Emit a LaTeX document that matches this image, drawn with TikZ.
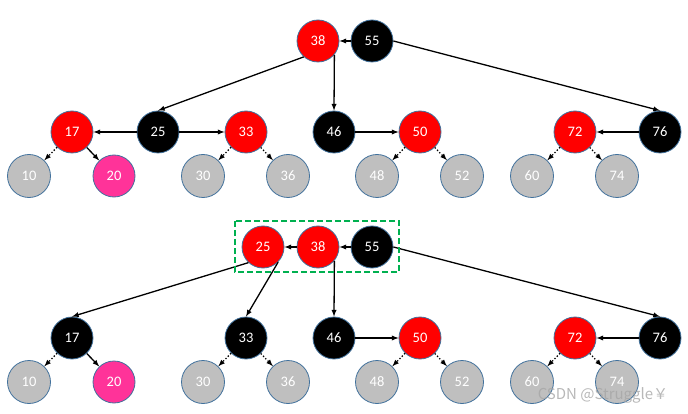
\documentclass[tikz,border=0pt]{standalone}
\usepackage{fontspec}
\setmainfont{Carlito}
\newfontfamily\cjkfont{Noto Sans CJK SC}
\definecolor{edgeblue}{HTML}{41719C}
\definecolor{leafgray}{HTML}{BFBFBF}
\definecolor{hotpink}{HTML}{FF3399}
\definecolor{boxgreen}{HTML}{00B050}
\begin{document}
\begin{tikzpicture}[x=1pt, y=-1pt, >=latex,
        key/.style={circle, draw=edgeblue, line width=0.8pt, minimum size=42pt, inner sep=0pt, text=white, font=\fontsize{14.5}{16}\selectfont},
        nil/.style={key, fill=leafgray, minimum size=43pt},
        link/.style={->, line width=1.3pt},
        nillink/.style={->, line width=1.3pt, dotted}]
        \useasboundingbox (0,0) rectangle (688,414);
        % the lower levels look alike in both trees
        \foreach \t/\dy/\c in {t/0/red, b/206/black} {
        \node[key, fill=\c] (\t17) at (72,132+\dy) {17};
        \node[key, fill=\c] (\t33) at (246,132+\dy) {33};
        \node[key, fill=black] (\t46) at (334,132+\dy) {46};
        \node[key, fill=red] (\t50) at (420,132+\dy) {50};
        \node[key, fill=red] (\t72) at (575,132+\dy) {72};
        \node[key, fill=black] (\t76) at (660,132+\dy) {76};
        \node[nil] (\t10) at (29,176+\dy) {10};
        \node[key, fill=hotpink] (\t20) at (114,176+\dy) {20};
        \node[nil] (\t30) at (203,176+\dy) {30};
        \node[nil] (\t36) at (288,176+\dy) {36};
        \node[nil] (\t48) at (377,176+\dy) {48};
        \node[nil] (\t52) at (462,176+\dy) {52};
        \node[nil] (\t60) at (532,176+\dy) {60};
        \node[nil] (\t74) at (617,176+\dy) {74};
        \draw[nillink] (\t17) -- (\t10);
        \draw[link] (\t17) -- (\t20);
        \draw[nillink] (\t33) -- (\t30);
        \draw[nillink] (\t33) -- (\t36);
        \draw[nillink] (\t50) -- (\t48);
        \draw[nillink] (\t50) -- (\t52);
        \draw[nillink] (\t72) -- (\t60);
        \draw[nillink] (\t72) -- (\t74);
        \draw[link] (\t46) -- (\t50);
        \draw[link] (\t76) -- (\t72);
        }
        % top tree
        \node[key, fill=red] (t38) at (318,41) {38};
        \node[key, fill=black] (t55) at (372,41) {55};
        \node[key, fill=black] (t25) at (158,132) {25};
        \draw[link] (t55) -- (t38);
        \draw[link] (t38.228) -- (t25.north);
        \draw[link] (t38.-40) -- (t46.north);
        \draw[link] (t55.east) -- (t76.north);
        \draw[link] (t25) -- (t17);
        \draw[link] (t25) -- (t33);
        % bottom tree
        \node[key, fill=red] (b25) at (263,247) {25};
        \node[key, fill=red] (b38) at (318,247) {38};
        \node[key, fill=black] (b55) at (372,247) {55};
        \draw[link] (b38) -- (b25);
        \draw[link] (b55) -- (b38);
        \draw[link] (b25.227) -- (b17.north);
        \draw[link] (b25.-45) -- (b33.north);
        \draw[link] (b38.-40) -- (b46.north);
        \draw[link] (b55.east) -- (b76.north);
        \draw[boxgreen, line width=2.2pt, dash pattern=on 6pt off 3pt] (235,221) rectangle (399,272);
        \node[text=gray!70, opacity=0.8, font=\cjkfont\fontsize{15}{16}\selectfont] (mark) at (603,395) {CSDN @Struggle￥};
    \end{tikzpicture}
\end{document}
